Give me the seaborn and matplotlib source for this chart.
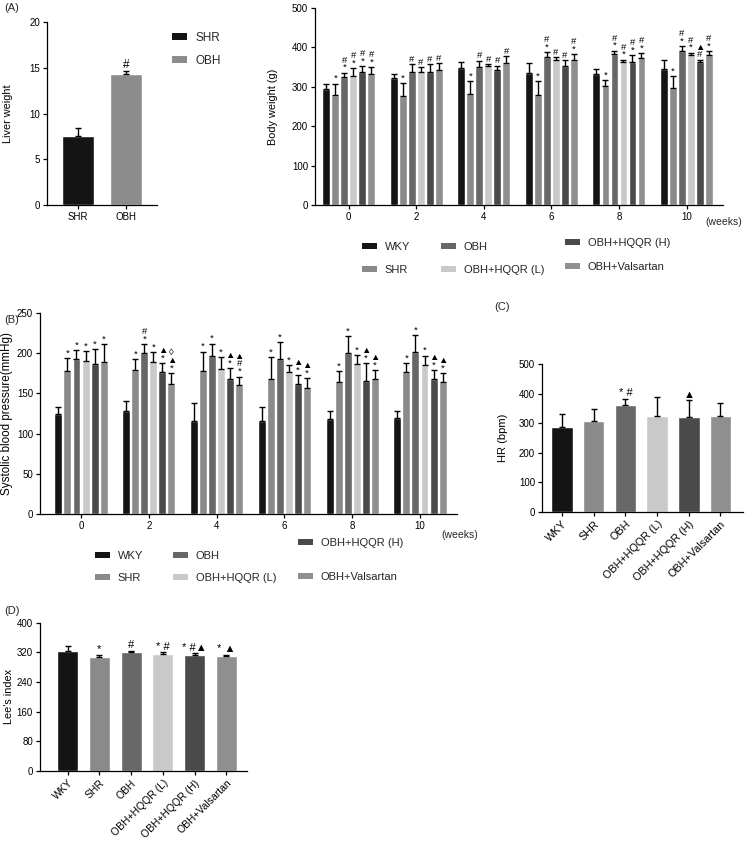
import numpy as np
import pandas as pd
import matplotlib
matplotlib.use("Agg")
import matplotlib.pyplot as plt
import seaborn as sns
from matplotlib.patches import Patch

sns.set_theme(style="ticks")
plt.rcParams['font.family'] = ['Liberation Sans', 'DejaVu Sans']
plt.rcParams['axes.linewidth'] = 0.9
plt.rcParams['xtick.major.width'] = 0.9
plt.rcParams['ytick.major.width'] = 0.9
plt.rcParams['xtick.major.size'] = 3
plt.rcParams['ytick.major.size'] = 3
plt.rcParams['xtick.color'] = 'black'
plt.rcParams['ytick.color'] = 'black'
plt.rcParams['axes.edgecolor'] = 'black'

# ---------------- data ----------------
groups = ["WKY", "SHR", "OBH", "OBH+HQQR (L)", "OBH+HQQR (H)", "OBH+Valsartan"]
group_colors = ["#141414", "#8a8a8a", "#676767", "#c9c9c9", "#4a4a4a", "#8f8f8f"]
weeks = ["0", "2", "4", "6", "8", "10"]

# (A) liver weight
liver_groups = ["SHR", "OBH"]
liver_colors = ["#141414", "#8c8c8c"]
liver_mean = [7.5, 14.35]
liver_err = [0.9, 0.3]
liver_marks = ["", "#"]

# Body weight (g)
bw_mean = {
    "WKY":           [294, 322, 347, 335, 333, 346],
    "SHR":           [280, 277, 282, 280, 301, 297],
    "OBH":           [325, 338, 349, 375, 383, 392],
    "OBH+HQQR (L)":  [328, 337, 353, 369, 364, 381],
    "OBH+HQQR (H)":  [337, 337, 342, 354, 364, 362],
    "OBH+Valsartan": [333, 343, 360, 369, 374, 381],
}
bw_err = {
    "WKY":           [12, 11, 15, 25, 13, 21],
    "SHR":           [28, 32, 33, 35, 17, 31],
    "OBH":           [11, 20, 17, 13, 9, 11],
    "OBH+HQQR (L)":  [19, 13, 5, 6, 5, 6],
    "OBH+HQQR (H)":  [15, 21, 12, 13, 17, 7],
    "OBH+Valsartan": [16, 17, 17, 14, 12, 9],
}
bw_marks = {
    "WKY":           ["", "", "", "", "", ""],
    "SHR":           ["*", "*", "*", "*", "*", "*"],
    "OBH":           ["#\n*", "#", "#", "#\n*", "#\n*", "#\n*"],
    "OBH+HQQR (L)":  ["#\n*", "#", "#", "#", "#\n*", "#\n*"],
    "OBH+HQQR (H)":  ["#\n*", "#", "#", "#", "#\n*", "▲\n#"],
    "OBH+Valsartan": ["#\n*", "#", "#", "#\n*", "#\n*", "#\n*"],
}

# (B) Systolic blood pressure (mmHg)
sbp_mean = {
    "WKY":           [124, 128, 116, 116, 118, 120],
    "SHR":           [178, 178.5, 178, 168, 164, 176],
    "OBH":           [193, 200, 196, 193, 200, 202],
    "OBH+HQQR (L)":  [190, 189, 180.5, 177, 186, 185],
    "OBH+HQQR (H)":  [186, 177, 168, 162, 166, 168.5],
    "OBH+Valsartan": [189, 161.5, 160, 157, 168.5, 164],
}
sbp_err = {
    "WKY":           [9, 12, 22, 17, 10, 8],
    "SHR":           [16, 14, 24, 27, 14, 12],
    "OBH":           [11, 11, 16, 21, 21, 21],
    "OBH+HQQR (L)":  [13, 12, 15, 8, 12, 12],
    "OBH+HQQR (H)":  [19, 11, 13, 11, 22, 11],
    "OBH+Valsartan": [22, 14, 11, 12, 11, 11],
}
sbp_marks = {
    "WKY":           ["", "", "", "", "", ""],
    "SHR":           ["*", "*", "*", "*", "*", "*"],
    "OBH":           ["*", "#\n*", "*", "*", "*", "*"],
    "OBH+HQQR (L)":  ["*", "*", "*", "*", "*", "*"],
    "OBH+HQQR (H)":  ["*", "▲\n*", "▲\n*", "▲\n*", "▲\n*", "▲\n*"],
    "OBH+Valsartan": ["*", "◊\n▲\n*", "▲\n#\n*", "▲\n*", "▲\n*", "▲\n*"],
}

# (C) HR (bpm)
hr_mean = [287, 308, 362, 325, 321, 323]
hr_err = [45, 39, 21, 63, 56, 45]
hr_marks = ["", "", "* #", "", "▲", ""]

# (D) Lee's index
lee_mean = [323, 306, 321, 315, 313, 310]
lee_err = [15, 7, 3, 5, 5, 4]
lee_marks = ["", "*", "#", "* #", "* #▲", "* ▲"]

# ---------------- layout helpers ----------------
W, H = 745, 848
fig = plt.figure(figsize=(W / 100, H / 100), dpi=100)
fig.patch.set_facecolor('white')

TICK_FS = 7
LAB_FS = 7.8
MARK_FS = 8
GROUP_MARK_FS = 6.8


def px_axes(l, t, r, b):
    return fig.add_axes([l / W, 1 - b / H, (r - l) / W, (b - t) / H])


def style(ax, ylabel, label_x_px, left_px, right_px, lab_fs=LAB_FS):
    sns.despine(ax=ax)
    ax.set_facecolor('white')
    ax.set_xlabel("")
    ax.set_ylabel(ylabel, fontsize=lab_fs, color='black')
    ax.yaxis.set_label_coords((label_x_px - left_px) / (right_px - left_px), 0.5)
    ax.tick_params(labelsize=TICK_FS, pad=2)
    ax.spines['left'].set_color('black')
    ax.spines['bottom'].set_color('black')


def leg_item(label, color, x_px, y_px, fs=8, hl=1.35, hh=0.45):
    fig.legend(handles=[Patch(facecolor=color, edgecolor='none', label=label)],
               loc='center left', bbox_to_anchor=(x_px / W, 1 - y_px / H),
               frameon=False, borderpad=0, borderaxespad=0, handlelength=hl,
               handleheight=hh, handletextpad=0.7, fontsize=fs)


def add_err_marks(ax, containers, errs, marks, cap=2, mfs=MARK_FS):
    for cont, e_list, m_list in zip(containers, errs, marks):
        xs = [b.get_x() + b.get_width() / 2 for b in cont]
        hs = [b.get_height() for b in cont]
        ax.errorbar(xs, hs, yerr=[np.zeros(len(hs)), e_list], fmt='none',
                    ecolor='black', elinewidth=1, capsize=cap, capthick=1, zorder=3)
        for x, h, e, t in zip(xs, hs, e_list, m_list):
            if t:
                ax.annotate(t, (x, h + e), xytext=(0, 0.3), textcoords='offset points',
                            ha='center', va='bottom', fontsize=mfs, linespacing=0.8,
                            color='black')


def grouped(ax, means, errs, marks):
    rows = []
    for g in groups:
        for w, m in zip(weeks, means[g]):
            rows.append((w, g, m))
    df = pd.DataFrame(rows, columns=["week", "group", "value"])
    sns.barplot(data=df, x="week", y="value", hue="group", order=weeks, hue_order=groups,
                palette=group_colors, errorbar=None, width=0.8, gap=0.12, saturation=1,
                legend=False, ax=ax)
    add_err_marks(ax, ax.containers, [errs[g] for g in groups], [marks[g] for g in groups],
                  mfs=GROUP_MARK_FS)


def single(ax, cats, vals, errs, marks, colors, width, mfs=MARK_FS):
    df = pd.DataFrame({"cat": cats, "value": vals})
    sns.barplot(data=df, x="cat", y="value", hue="cat", order=cats, hue_order=cats,
                palette=colors, errorbar=None, width=width, saturation=1, legend=False, ax=ax)
    add_err_marks(ax, ax.containers, [[e] for e in errs], [[m] for m in marks], cap=2.5, mfs=mfs)


# ---------------- (A) Liver weight ----------------
axA = px_axes(47, 22, 157, 205)
single(axA, liver_groups, liver_mean, liver_err, liver_marks, liver_colors, 0.67, mfs=8.5)
axA.set_xlim(-0.65, 1.65)
axA.set_ylim(0, 20)
axA.set_yticks([0, 5, 10, 15, 20])
style(axA, "Liver weight", 13, 47, 157)
leg_item("SHR", liver_colors[0], 172, 38, fs=8.5, hl=1.25, hh=0.5)
leg_item("OBH", liver_colors[1], 172, 61, fs=8.5, hl=1.25, hh=0.5)

# ---------------- Body weight ----------------
axBW = px_axes(315, 8, 723, 205)
grouped(axBW, bw_mean, bw_err, bw_marks)
axBW.set_xlim(-0.5, 5.54)
axBW.set_ylim(0, 500)
axBW.set_yticks(np.arange(0, 501, 100))
style(axBW, "Body weight (g)", 278, 315, 723)
fig.text(705 / W, 1 - 222 / H, "(weeks)", fontsize=TICK_FS + 0.5, va='center', ha='left')
bw_leg_pos = [(362, 247), (362, 270), (441, 247), (441, 270), (565, 243), (565, 267)]
for g, c, (x, y) in zip(groups, group_colors, bw_leg_pos):
    leg_item(g, c, x, y)

# ---------------- (B) Systolic blood pressure ----------------
axB = px_axes(40, 313, 457, 514)
grouped(axB, sbp_mean, sbp_err, sbp_marks)
axB.set_xlim(-0.605, 5.546)
axB.set_ylim(0, 250)
axB.set_yticks(np.arange(0, 251, 50))
style(axB, "Systolic blood pressure(mmHg)", 13, 40, 457, lab_fs=8.4)
fig.text(441 / W, 1 - 535 / H, "(weeks)", fontsize=TICK_FS + 0.5, va='center', ha='left')
b_leg_pos = [(95, 556), (95, 578), (173, 556), (173, 578), (298, 543), (298, 577)]
for g, c, (x, y) in zip(groups, group_colors, b_leg_pos):
    leg_item(g, c, x, y)

# ---------------- (C) HR ----------------
axC = px_axes(542, 364, 743, 512)
single(axC, groups, hr_mean, hr_err, hr_marks, group_colors, 0.68)
axC.set_xlim(-0.63, 5.71)
axC.set_ylim(0, 500)
axC.set_yticks(np.arange(0, 501, 100))
style(axC, "HR (bpm)", 508, 542, 743, lab_fs=8)
axC.set_xticks(range(len(groups)))
axC.set_xticklabels(groups, rotation=45, ha='right', rotation_mode='anchor', fontsize=7.8)

# ---------------- (D) Lee's index ----------------
axD = px_axes(40, 622.6, 247, 771)
single(axD, groups, lee_mean, lee_err, lee_marks, group_colors, 0.66)
axD.set_xlim(-0.87, 5.65)
axD.set_ylim(0, 400)
axD.set_yticks(np.arange(0, 401, 80))
style(axD, "Lee's index", 14, 40, 247)
axD.set_xticks(range(len(groups)))
axD.set_xticklabels(groups, rotation=45, ha='right', rotation_mode='anchor', fontsize=7.5)

# ---------------- panel labels ----------------
for lab, x, y in [("(A)", 4, 8), ("(B)", 4, 320), ("(C)", 494, 307), ("(D)", 4, 611)]:
    fig.text(x / W, 1 - y / H, lab, fontsize=8, va='center', ha='left')

fig.savefig("out.png", dpi=100, facecolor='white')
